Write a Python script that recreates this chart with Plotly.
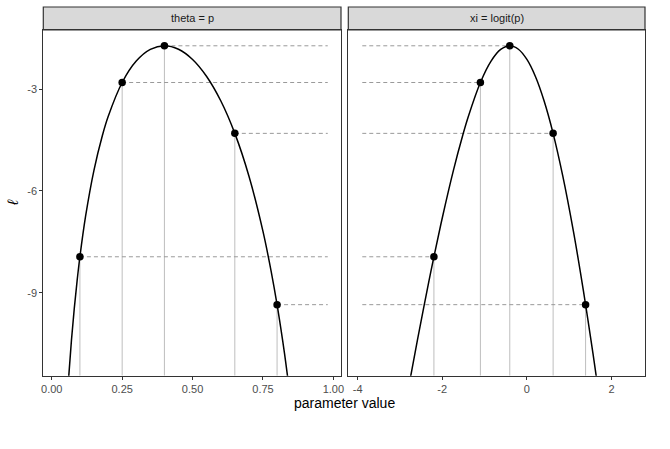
import plotly.graph_objects as go

# Curve samples (parameter p, log-likelihood)
p_curve = [0.05, 0.06, 0.07, 0.08, 0.09, 0.10, 0.12, 0.15, 0.18, 0.20, 0.25, 0.30, 0.35,
           0.40, 0.45, 0.50, 0.55, 0.60, 0.65, 0.70, 0.75, 0.78, 0.80, 0.82, 0.83, 0.84, 0.85]
xi_curve = [-2.944, -2.752, -2.587, -2.442, -2.314, -2.197, -1.992, -1.735, -1.516, -1.386,
            -1.099, -0.847, -0.619, -0.405, -0.201, 0.0, 0.201, 0.405, 0.619, 0.847, 1.099,
            1.266, 1.386, 1.516, 1.586, 1.658, 1.735]
ll_curve = [-12.837, -11.506, -10.401, -9.462, -8.651, -7.941, -6.752, -5.383, -4.356, -3.809,
            -2.799, -2.168, -1.824, -1.716, -1.818, -2.119, -2.621, -3.338, -4.300, -5.557,
            -7.193, -8.413, -9.354, -10.422, -11.011, -11.642, -12.321]

# Highlighted points
p_pts = [0.10, 0.25, 0.40, 0.65, 0.80]
xi_pts = [-2.197, -1.099, -0.405, 0.619, 1.386]
ll_pts = [-7.941, -2.799, -1.716, -4.300, -9.354]

# Ends of the horizontal dashed guides
p_guide_end = 0.98
xi_guide_start = -3.89

strip_labels = ["theta = p", "xi = logit(p)"]
x_tickvals_left = [0, 0.25, 0.5, 0.75, 1.0]
x_ticktext_left = ["0.00", "0.25", "0.50", "0.75", "1.00"]
x_tickvals_right = [-4, -2, 0, 2]
x_ticktext_right = ["-4", "-2", "0", "2"]
y_tickvals = [-3, -6, -9]

YMIN, YMAX = -11.45, -1.25
XL_RANGE = [-0.030, 1.027]
XR_RANGE = [-4.22, 2.79]

W, H = 670, 449
FONT = "Liberation Sans, Arial, sans-serif"

fig = go.Figure()

def add_panel(xs_curve, xs_pts, xa, ya, guide_from_point_to=None, guide_from=None):
    # vertical grey lines
    vx, vy = [], []
    for x, y in zip(xs_pts, ll_pts):
        vx += [x, x, None]
        vy += [y, YMIN, None]
    fig.add_trace(go.Scatter(x=vx, y=vy, mode="lines", xaxis=xa, yaxis=ya,
                             line=dict(color="#BEBEBE", width=1), hoverinfo="skip", showlegend=False))
    # dashed horizontal guides
    hx, hy = [], []
    for x, y in zip(xs_pts, ll_pts):
        if guide_from_point_to is not None:
            hx += [x, guide_from_point_to, None]
        else:
            hx += [guide_from, x, None]
        hy += [y, y, None]
    fig.add_trace(go.Scatter(x=hx, y=hy, mode="lines", xaxis=xa, yaxis=ya,
                             line=dict(color="#9A9A9A", width=1, dash="4px,3px"),
                             hoverinfo="skip", showlegend=False))
    # curve
    fig.add_trace(go.Scatter(x=xs_curve, y=ll_curve, mode="lines", xaxis=xa, yaxis=ya,
                             line=dict(color="black", width=1.5, shape="spline", smoothing=1.0),
                             showlegend=False))
    # points
    fig.add_trace(go.Scatter(x=xs_pts, y=ll_pts, mode="markers", xaxis=xa, yaxis=ya,
                             marker=dict(color="black", size=7.5), showlegend=False, cliponaxis=False))

add_panel(p_curve, p_pts, "x", "y", guide_from_point_to=p_guide_end)
add_panel(xi_curve, xi_pts, "x2", "y2", guide_from=xi_guide_start)

dom_left = [43.3 / W, 341 / W]
dom_right = [348.3 / W, 645 / W]
ydom = [(H - 375.7) / H, (H - 30) / H]
strip_top = (H - 7) / H

axis_common = dict(showgrid=False, zeroline=False, showline=True, mirror=True,
                   linecolor="#333333", linewidth=1.2, ticks="outside", ticklen=3,
                   tickcolor="#333333", tickwidth=1,
                   tickfont=dict(family=FONT, size=11, color="#4D4D4D"), automargin=False)

fig.update_layout(
    width=W, height=H,
    margin=dict(l=0, r=0, t=0, b=0),
    paper_bgcolor="white", plot_bgcolor="white",
    xaxis=dict(domain=dom_left, range=XL_RANGE, tickvals=x_tickvals_left,
               ticktext=x_ticktext_left, anchor="y", **axis_common),
    xaxis2=dict(domain=dom_right, range=XR_RANGE, tickvals=x_tickvals_right,
                ticktext=x_ticktext_right, anchor="y2", **axis_common),
    yaxis=dict(domain=ydom, range=[YMIN, YMAX], tickvals=y_tickvals,
               ticktext=[str(v) for v in y_tickvals], anchor="x", **axis_common),
    yaxis2=dict(domain=ydom, range=[YMIN, YMAX], tickvals=y_tickvals,
                showticklabels=False, anchor="x2",
                **{k: v for k, v in axis_common.items() if k not in ("ticks",)}, ticks=""),
)

shapes = []
annotations = []
for dom, label in zip([dom_left, dom_right], strip_labels):
    shapes.append(dict(type="rect", xref="paper", yref="paper",
                       x0=dom[0], x1=dom[1], y0=ydom[1], y1=strip_top,
                       fillcolor="#D9D9D9", line=dict(color="#333333", width=1.2), layer="below"))
    annotations.append(dict(xref="paper", yref="paper", x=(dom[0] + dom[1]) / 2,
                            y=(ydom[1] + strip_top) / 2, text=label, showarrow=False,
                            xanchor="center", yanchor="middle",
                            font=dict(family=FONT, size=11, color="#1A1A1A")))

annotations.append(dict(xref="paper", yref="paper", x=344.5 / W, y=(H - 403) / H,
                        text="parameter value", showarrow=False, xanchor="center",
                        yanchor="middle", font=dict(family=FONT, size=14, color="black")))
annotations.append(dict(xref="paper", yref="paper", x=13 / W, y=(H - 203) / H,
                        text="<i>ℓ</i>", showarrow=False, textangle=-90, xanchor="center",
                        yanchor="middle", font=dict(family=FONT, size=15, color="black")))

fig.update_layout(shapes=shapes, annotations=annotations)

fig.write_html("out.html")
